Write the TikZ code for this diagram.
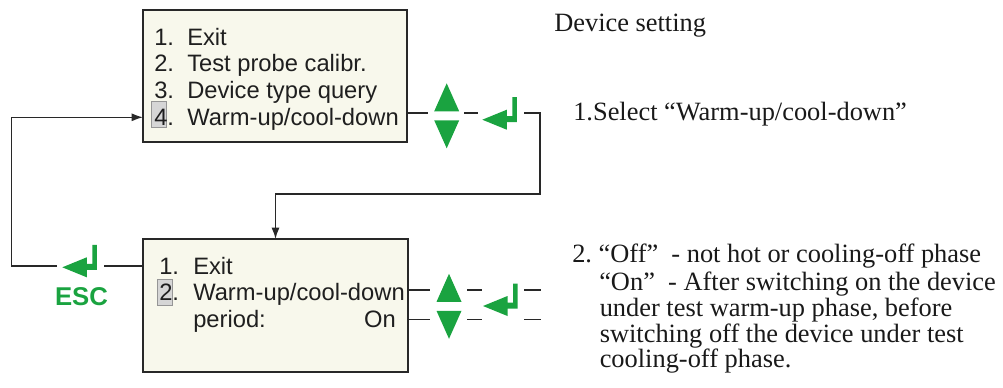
\documentclass[tikz,border=0pt]{standalone}
\usepackage{fontspec}
\setmainfont{Liberation Serif}
\newfontfamily\menufont{Liberation Sans}
\usetikzlibrary{arrows.meta}
\definecolor{keygreen}{RGB}{26,163,64}
\definecolor{boxfill}{RGB}{248,248,236}
\definecolor{hlfill}{RGB}{214,214,214}
\definecolor{hlline}{RGB}{150,150,150}
\definecolor{inkline}{RGB}{40,40,40}
\frenchspacing
\begin{document}
\begin{tikzpicture}[x=0.75pt,y=-0.75pt,
  menubox/.style={draw=inkline,fill=boxfill,line width=1.1pt,inner sep=0pt,outer sep=0pt,anchor=north west},
  menutext/.style={font=\menufont\fontsize{17.8}{20}\selectfont,text=black!88,inner sep=0pt,anchor=base west},
  notetext/.style={font=\fontsize{19.8}{23}\selectfont,text=black!90,inner sep=0pt,anchor=base west},
  hlbox/.style={draw=hlline,fill=hlfill,line width=0.5pt},
  conn/.style={draw=inkline,line width=1pt},
  connarrow/.style={conn,-{Latex[length=8.5pt,width=6pt]}},
  updown/.pic={
    \fill[keygreen] (-12.5,-4.5) -- (0,-32.5) -- (12.5,-4.5) -- cycle;
    \fill[keygreen] (-12.5,4.5) -- (0,32.5) -- (12.5,4.5) -- cycle;},
  enterkey/.pic={
    \fill[keygreen] (0,0) -- (24.5,-10) -- (24.5,-3.5) -- (30,-3.5) -- (30,-22.5)
      -- (34.5,-22.5) -- (34.5,2.5) -- (24.5,2.5) -- (24.5,10) -- cycle;}
]
\useasboundingbox (0,0) rectangle (1003,387);

% ---------- boxes ----------
\node[menubox,minimum width=198pt,minimum height=99pt] (top) at (143,10) {};
\node[menubox,minimum width=198.75pt,minimum height=99.75pt] (bot) at (143,239) {};

% highlights
\draw[hlbox] (151.7,101) rectangle (166.7,127.7);
\draw[hlbox] (157,279) rectangle (172,305.6);

% ---------- top menu text ----------
\node[menutext] (tn1) at (154,45) {1.};
\node[menutext] (tt1) at (187,45) {Exit};
\node[menutext] (tn2) at (154,71.7) {2.};
\node[menutext] (tt2) at (187,71.7) {Test probe calibr.};
\node[menutext] (tn3) at (154,98.3) {3.};
\node[menutext] (tt3) at (187,98.3) {Device type query};
\node[menutext] (tn4) at (154,125) {4.};
\node[menutext] (tt4) at (187,125) {Warm-up/cool-down};

% ---------- bottom menu text ----------
\node[menutext] (bn1) at (159,274.3) {1.};
\node[menutext] (bt1) at (193,274.3) {Exit};
\node[menutext] (bn2) at (159,300.7) {2.};
\node[menutext] (bt2) at (193,300.7) {Warm-up/cool-down};
\node[menutext] (bt3) at (193,327) {period:};
\node[menutext,anchor=base east] (bon) at (396,327) {On};

% ---------- keys ----------
\pic at (446.7,115.8) {updown};
\pic at (482.3,119.7) {enterkey};
\pic at (449,306.3) {updown};
\pic at (483,306) {enterkey};
\pic at (62.3,267.3) {enterkey};
\node[font=\menufont\bfseries\fontsize{19.3}{22}\selectfont,text=keygreen,inner sep=0pt] (esc) at (81.5,297) {ESC};

% ---------- connector coordinates ----------
\coordinate (ta) at (top.east |- 0,113);
\coordinate (tb) at (428.3,113);
\coordinate (tc) at (464.3,113);
\coordinate (td) at (477.7,113);
\coordinate (te) at (524.3,113);
\coordinate (tf) at (540,113);
\coordinate (tg) at (540,194);
\coordinate (th) at (bot.north |- 0,194);

\coordinate (la) at (bot.west |- 0,266);
\coordinate (lb) at (104,266);
\coordinate (lc) at (57,266);
\coordinate (ld) at (11.7,266);
\coordinate (le) at (11.7,117.3);
\coordinate (lf) at (top.west |- 0,117.3);

\coordinate (ua) at (bot.east |- 0,290);
\coordinate (ub) at (430,290);
\coordinate (uc) at (467,290);
\coordinate (ud) at (482,290);
\coordinate (ue) at (524,290);
\coordinate (uf) at (541,290);
\coordinate (va) at (bot.east |- 0,319.3);
\coordinate (vb) at (430,319.3);
\coordinate (vc) at (467,319.3);
\coordinate (vd) at (482,319.3);
\coordinate (ve) at (524,319.3);
\coordinate (vf) at (541,319.3);

% ---------- connectors ----------
\draw[conn] (ta) -- (tb);
\draw[conn] (tc) -- (td);
\draw[connarrow] (te) -- (tf) -- (tg) -- (th) -- (bot.north);

\draw[conn] (la) -- (lb);
\draw[connarrow] (lc) -- (ld) -- (le) -- (lf);

\draw[conn] (ua) -- (ub);
\draw[conn] (uc) -- (ud);
\draw[conn] (ue) -- (uf);
\draw[conn] (va) -- (vb);
\draw[conn] (vc) -- (vd);
\draw[conn] (ve) -- (vf);

% ---------- notes ----------
\node[notetext] (title) at (554,31.7) {Device setting};
\node[notetext] (n1) at (573,120) {1.Select ``Warm-up/cool-down''};
\node[notetext] (n2a) at (572,262) {2. ``Off''\ \ - not hot or cooling-off phase};
\node[notetext] (n2b) at (599,290) {``On''\ \ - After switching on the device};
\node[notetext] (n2c) at (599.5,316.5) {under test warm-up phase, before};
\node[notetext] (n2d) at (599.5,342) {switching off the device under test};
\node[notetext] (n2e) at (599.5,367.5) {cooling-off phase.};
\end{tikzpicture}
\end{document}
